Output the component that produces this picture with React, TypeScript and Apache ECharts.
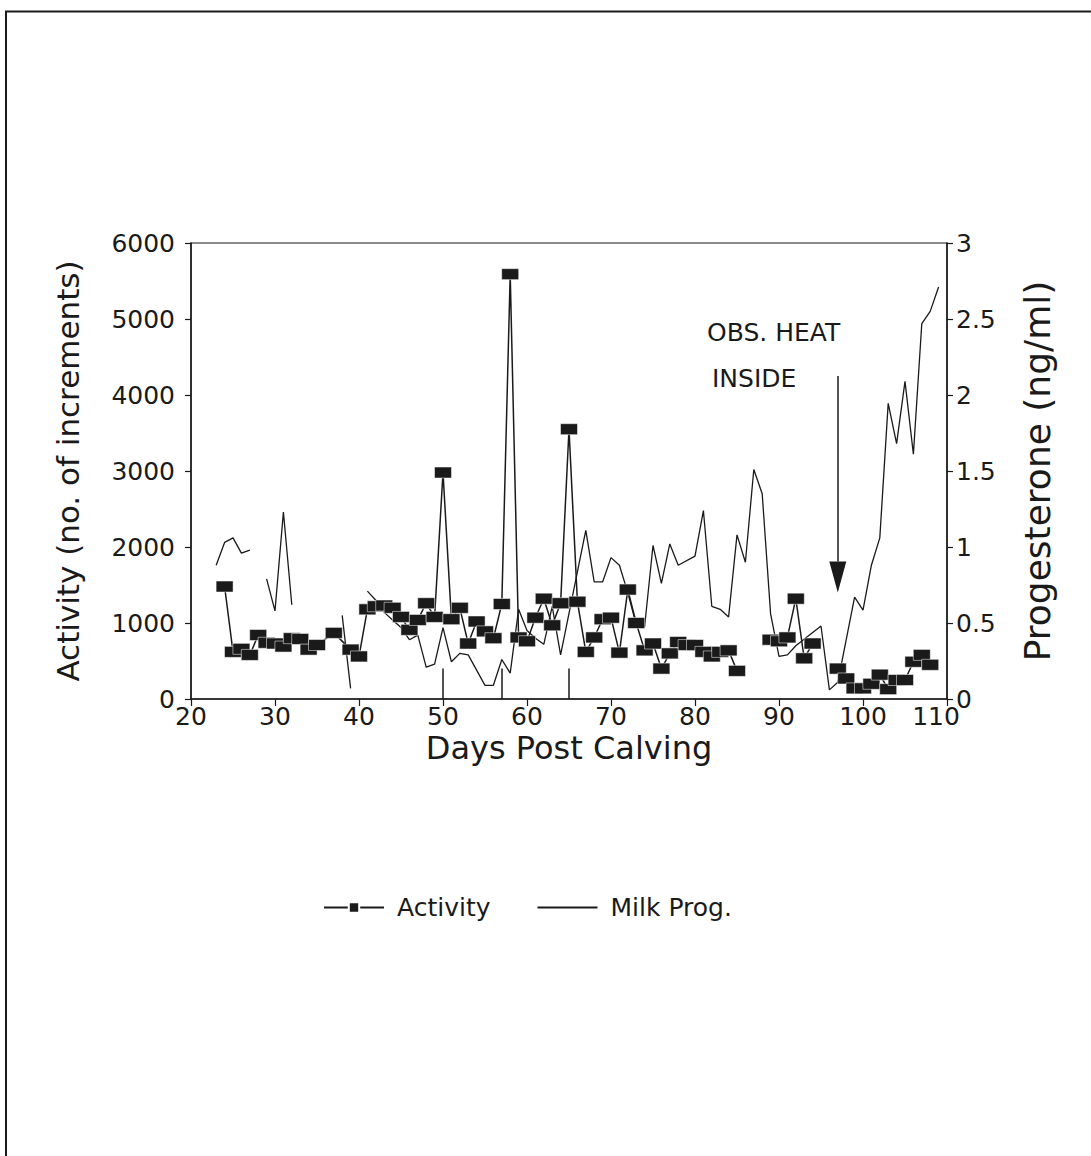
import React, { useEffect, useRef } from "react";
import * as echarts from "echarts";

// ---- Data ----
const activityDays = [24, 25, 26, 27, 28, 29, 30, 31, 32, 33, 34, 35, 37, 39, 40, 41, 42, 43, 44, 45, 46, 47, 48, 49, 50, 51, 52, 53, 54, 55, 56, 57, 58, 59, 60, 61, 62, 63, 64, 65, 66, 67, 68, 69, 70, 71, 72, 73, 74, 75, 76, 77, 78, 79, 80, 81, 82, 83, 84, 85, 86, 89, 90, 91, 92, 93, 94, 95, 97, 98, 99, 100, 101, 102, 103, 104, 105, 106, 107, 108];
const activityValues: (number | null)[] = [1480, 620, 660, 580, 842, 740, 730, 690, 800, 790, 650, 710, 870, 650, 560, 1180, 1220, 1230, 1200, 1080, 910, 1040, 1260, 1080, 2980, 1050, 1200, 730, 1020, 890, 800, 1250, 5590, 810, 760, 1070, 1320, 970, 1260, 3550, 1280, 620, 810, 1050, 1070, 610, 1440, 1000, 640, 730, 400, 600, 750, 710, 710, 620, 560, 620, 640, 370, null, 780, 760, 810, 1320, 535, 730, null, 400, 270, 140, 140, 200, 320, 130, 250, 250, 490, 580, 450];

const progDays = [23, 24, 25, 26, 27, 28, 29, 30, 31, 32, 33, 38, 39, 40, 41, 42, 43, 44, 45, 46, 47, 48, 49, 50, 51, 52, 53, 55, 56, 57, 58, 59, 60, 61, 62, 63, 64, 67, 68, 69, 70, 71, 72, 73, 74, 75, 76, 77, 78, 80, 81, 82, 83, 84, 85, 86, 87, 88, 89, 90, 91, 92, 95, 96, 97, 99, 100, 101, 102, 103, 104, 105, 106, 107, 108, 109];
const progValues: (number | null)[] = [0.88, 1.03, 1.06, 0.96, 0.98, null, 0.79, 0.58, 1.23, 0.62, null, 0.55, 0.07, null, 0.71, 0.65, 0.57, 0.52, 0.47, 0.39, 0.42, 0.21, 0.23, 0.47, 0.245, 0.3, 0.29, 0.09, 0.09, 0.26, 0.17, 0.59, 0.45, 0.4, 0.36, 0.61, 0.29, 1.11, 0.77, 0.77, 0.93, 0.88, 0.7, 0.49, 0.475, 1.01, 0.76, 1.02, 0.88, 0.94, 1.24, 0.61, 0.59, 0.54, 1.08, 0.9, 1.51, 1.35, 0.56, 0.28, 0.29, 0.35, 0.48, 0.06, 0.11, 0.67, 0.585, 0.88, 1.06, 1.945, 1.68, 2.09, 1.61, 2.47, 2.55, 2.71];

// short vertical marks rising from the x axis
const heatMarkDays = [50, 57, 65];
const heatMarkHeight = 400;
// arrow "OBS. HEAT INSIDE"
const arrowDay = 97;
const arrowTop = 4250;
const arrowShaftEnd = 1810;
const arrowHeadCenter = 1605;

const annotationLines = ["OBS. HEAT", "INSIDE"];
const xTitle = "Days Post Calving";
const yLeftTitle = "Activity (no. of increments)";
const yRightTitle = "Progesterone (ng/ml)";

const FONT = "DejaVu Sans";
const INK = "#1a1a1a";

export default function App() {
  const ref = useRef<HTMLDivElement>(null);

  useEffect(() => {
    document.body.style.margin = "0";
    if (!ref.current) return;
    const chart = echarts.init(ref.current, null, { renderer: "svg" });

    const actData = activityDays.map((d, i) => [d, activityValues[i] === null ? "-" : activityValues[i]]);
    const progData = progDays.map((d, i) => [d, progValues[i] === null ? "-" : progValues[i]]);

    const option: any = {
      animation: false,
      backgroundColor: "#fff",
      textStyle: { fontFamily: FONT, color: INK },
      grid: {
        left: 191,
        right: 144,
        top: 243,
        bottom: 457,
        show: true,
        borderColor: INK,
        borderWidth: 1.2,
        backgroundColor: "transparent",
      },
      xAxis: {
        type: "value",
        min: 20,
        max: 110,
        interval: 10,
        name: xTitle,
        nameLocation: "middle",
        nameGap: 33,
        nameTextStyle: { fontSize: 32, fontFamily: FONT, color: INK },
        axisLine: { show: true, lineStyle: { color: INK, width: 1.5 } },
        axisTick: { show: true, length: 7, lineStyle: { color: INK, width: 1.2 } },
        axisLabel: {
          fontSize: 25,
          fontFamily: FONT,
          color: INK,
          margin: 5,
          formatter: (v: number) => (v === 110 ? "{last|110}" : String(v)),
          rich: { last: { fontSize: 25, fontFamily: FONT, color: INK, padding: [0, 22, 0, 0] } },
        },
        splitLine: { show: false },
      },
      yAxis: [
        {
          type: "value",
          min: 0,
          max: 6000,
          interval: 1000,
          position: "left",
          name: yLeftTitle,
          nameLocation: "middle",
          nameRotate: 90,
          nameGap: 108,
          nameTextStyle: { fontSize: 31, fontFamily: FONT, color: INK },
          axisLine: { show: true, lineStyle: { color: INK, width: 1.5 } },
          axisTick: { show: true, length: 6, lineStyle: { color: INK, width: 1.2 } },
          axisLabel: { fontSize: 25, fontFamily: FONT, color: INK, margin: 16, formatter: (v: number) => String(v) },
          splitLine: { show: false },
        },
        {
          type: "value",
          min: 0,
          max: 3,
          interval: 0.5,
          position: "right",
          name: yRightTitle,
          nameLocation: "middle",
          nameRotate: 90,
          nameGap: 72,
          nameTextStyle: { fontSize: 36, fontFamily: FONT, color: INK },
          axisLine: { show: true, lineStyle: { color: INK, width: 1.5 } },
          axisTick: { show: true, length: 6, lineStyle: { color: INK, width: 1.2 } },
          axisLabel: { fontSize: 25, fontFamily: FONT, color: INK, margin: 9, formatter: (v: number) => String(v) },
          splitLine: { show: false },
        },
      ],
      legend: {
        left: 318,
        top: 890,
        itemWidth: 60,
        itemHeight: 13,
        itemGap: 46,
        textStyle: { fontSize: 25, fontFamily: FONT, color: INK, padding: [0, 0, 0, 8] },
        data: [
          { name: "Activity" },
          { name: "Milk Prog.", itemStyle: { opacity: 0 } },
        ],
      },
      series: [
        {
          name: "Milk Prog.",
          type: "line",
          yAxisIndex: 1,
          data: progData,
          symbol: "none",
          connectNulls: false,
          lineStyle: { color: INK, width: 1.3 },
          itemStyle: { color: INK },
          z: 2,
        },
        {
          name: "Activity",
          type: "line",
          yAxisIndex: 0,
          data: actData,
          symbol: "rect",
          symbolSize: [17, 11],
          connectNulls: false,
          lineStyle: { color: INK, width: 1.5 },
          itemStyle: { color: INK, borderColor: "#fff", borderWidth: 0.5 },
          z: 3,
          markLine: {
            silent: true,
            symbol: ["none", "none"],
            label: { show: false },
            lineStyle: { color: INK, width: 1.5, type: "solid" },
            data: [
              ...heatMarkDays.map((d) => [{ coord: [d, 0] }, { coord: [d, heatMarkHeight] }]),
              [{ coord: [arrowDay, arrowTop] }, { coord: [arrowDay, arrowShaftEnd] }],
            ],
          },
          markPoint: {
            silent: true,
            symbol: "triangle",
            symbolRotate: 180,
            symbolSize: [17, 31],
            label: { show: false },
            itemStyle: { color: INK },
            data: [{ coord: [arrowDay, arrowHeadCenter] }],
          },
        },
      ],
      graphic: [
        {
          type: "polyline",
          shape: { points: [[6, 1156], [6, 11.5], [1091, 11.5]] },
          style: { stroke: INK, lineWidth: 2, fill: "none" },
        },
        {
          type: "text",
          left: 707,
          top: 320,
          style: { text: annotationLines[0], fontSize: 25, fontFamily: FONT, fill: INK },
        },
        {
          type: "text",
          left: 712,
          top: 366,
          style: { text: annotationLines[1], fontSize: 25, fontFamily: FONT, fill: INK },
        },
      ],
    };

    chart.setOption(option);
    return () => chart.dispose();
  }, []);

  return <div ref={ref} style={{ width: 1091, height: 1156 }} />;
}
